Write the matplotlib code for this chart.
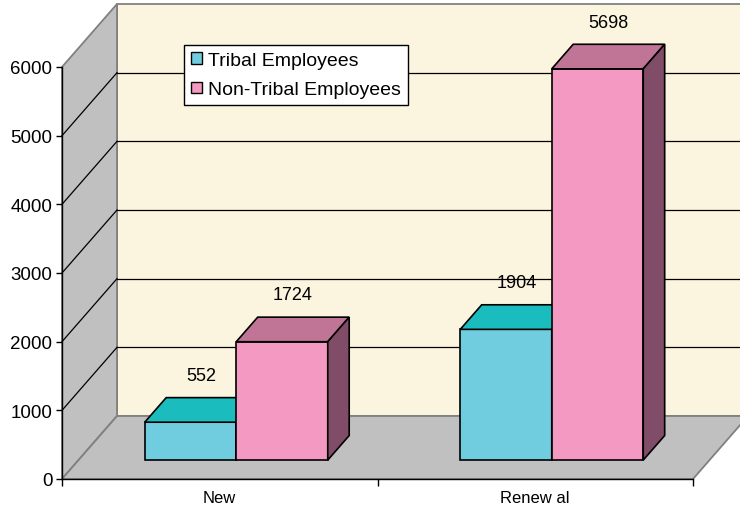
import matplotlib.pyplot as plt
from matplotlib.patches import Polygon, Patch

# Data
categories = ['New', 'Renew al']
series_names = ['Tribal Employees', 'Non-Tribal Employees']
tribal = [552, 1904]
non_tribal = [1724, 5698]
y_ticks = [0, 1000, 2000, 3000, 4000, 5000, 6000]

# Colours (front, top, side) for each series
tribal_cols = ('#70CDE0', '#1ABCBE', '#1A9EA0')
non_tribal_cols = ('#F49AC2', '#C07496', '#804C67')
wall_gray = '#C0C0C0'
back_wall = '#FBF4DE'
edge_gray = '#808080'

plt.rcParams['font.family'] = ['Liberation Sans', 'DejaVu Sans']

W, H = 740, 510
fig = plt.figure(figsize=(W / 100, H / 100), dpi=100)
# axes spans the front plane of the 3D box
ax_l, ax_b, ax_w, ax_h = 62, 30, 631, 412
ax = fig.add_axes([ax_l / W, ax_b / H, ax_w / W, ax_h / H])
n_cat = len(categories)
ymax = y_ticks[-1]
ax.set_xlim(0, n_cat)
ax.set_ylim(0, ymax)
ax.patch.set_visible(False)

# depth of the box, converted from pixels to data units
DX = 55 * n_cat / ax_w
DY = 63 * ymax / ax_h


def poly(pts, fc, ec, lw=1.0, z=1):
    ax.add_patch(Polygon(pts, closed=True, facecolor=fc, edgecolor=ec,
                         linewidth=lw, zorder=z, clip_on=False))


# walls and floor
poly([(DX, DY), (n_cat + DX, DY), (n_cat + DX, ymax + DY), (DX, ymax + DY)],
     back_wall, edge_gray, 1.3, 0)
poly([(0, 0), (DX, DY), (DX, ymax + DY), (0, ymax)], wall_gray, edge_gray, 1.3, 0)
poly([(0, 0), (n_cat, 0), (n_cat + DX, DY), (DX, DY)], wall_gray, edge_gray, 1.3, 0)

# gridlines on side and back walls
for v in y_ticks[1:-1]:
    ax.plot([0, DX], [v, v + DY], color='black', lw=0.9, zorder=1, clip_on=False)
    ax.plot([DX, n_cat + DX], [v + DY, v + DY], color='black', lw=0.9,
            zorder=1, clip_on=False)

# bars
front_f = 0.30   # bar front position as fraction of depth
depth_f = 0.39   # bar depth as fraction of depth
bw = 0.29
base = front_f * DY
x_shift = front_f * DX
bdx, bdy = depth_f * DX, depth_f * DY


def bar3d(x0, val, cols):
    x1 = x0 + bw
    top = base + val
    poly([(x0, base), (x1, base), (x1, top), (x0, top)], cols[0], 'black', 1.2, 3)
    poly([(x0, top), (x1, top), (x1 + bdx, top + bdy), (x0 + bdx, top + bdy)],
         cols[1], 'black', 1.2, 3)
    poly([(x1, base), (x1 + bdx, base + bdy), (x1 + bdx, top + bdy), (x1, top)],
         cols[2], 'black', 1.2, 3)
    ax.annotate(str(val), xy=((x0 + x1) / 2 + bdx / 2, top + bdy),
                xytext=(0, 16), textcoords='offset points',
                ha='center', va='center', fontsize=13, zorder=5,
                annotation_clip=False)


for i in range(n_cat):
    c = i + 0.5 + x_shift
    bar3d(c - bw, tribal[i], tribal_cols)
    bar3d(c, non_tribal[i], non_tribal_cols)

# axes styling
for s in ['top', 'right']:
    ax.spines[s].set_visible(False)
for s in ['left', 'bottom']:
    ax.spines[s].set_color('black')
    ax.spines[s].set_linewidth(1.0)
    ax.spines[s].set_zorder(4)
ax.set_yticks(y_ticks)
ax.tick_params(axis='y', direction='out', length=4, width=1, labelsize=13.5, pad=3)
ax.set_xticks(range(n_cat + 1))
ax.set_xticklabels([])
ax.set_xticks([i + 0.5 for i in range(n_cat)], minor=True)
ax.set_xticklabels(categories, minor=True)
ax.tick_params(axis='x', which='major', direction='out', length=5, width=1)
ax.tick_params(axis='x', which='minor', length=0, labelsize=12, pad=8)

handles = [Patch(facecolor=tribal_cols[0], edgecolor='black', linewidth=1),
           Patch(facecolor=non_tribal_cols[0], edgecolor='black', linewidth=1)]
leg = fig.legend(handles=handles, labels=series_names, loc='upper left',
                 bbox_to_anchor=(184 / W, 1 - 46 / H), fontsize=14,
                 frameon=True, fancybox=False, framealpha=1, edgecolor='black',
                 borderpad=0.35, handlelength=0.55, handleheight=0.55,
                 handletextpad=0.35, labelspacing=0.65, borderaxespad=0)
leg.get_frame().set_linewidth(1.0)
leg.set_zorder(10)

fig.savefig('out.png', dpi=100)
